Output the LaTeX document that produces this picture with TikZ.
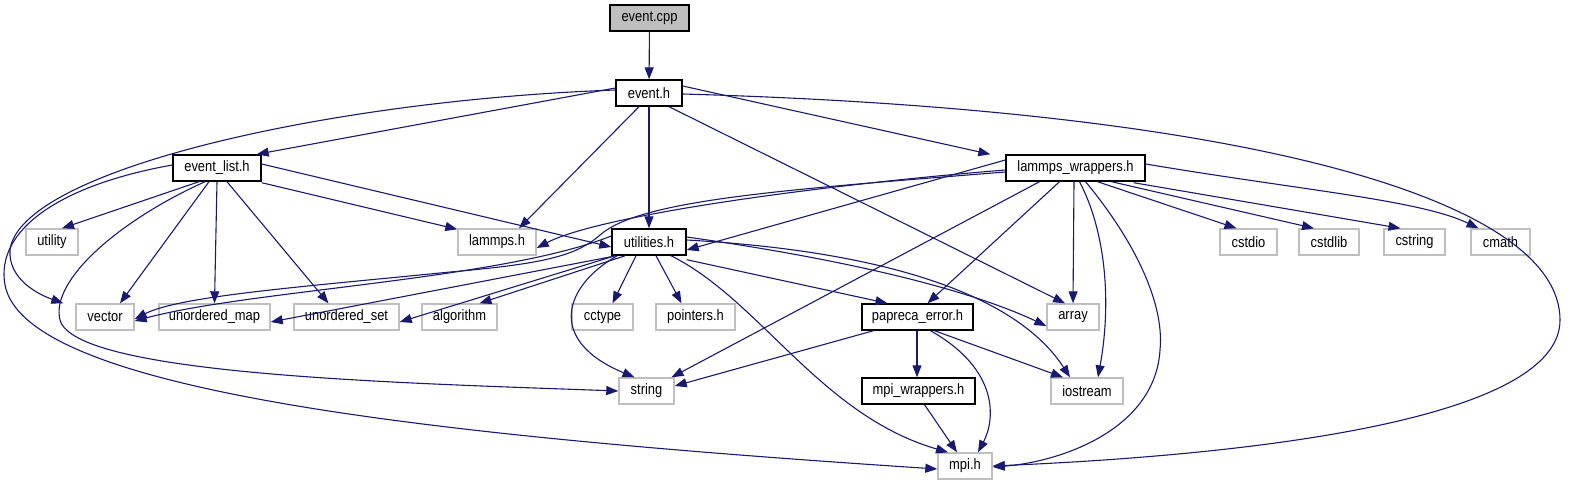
\documentclass[tikz,border=0pt]{standalone}
\usepackage{fontspec}
\setmainfont[FakeStretch=0.86]{Liberation Sans}
\usetikzlibrary{arrows.meta}
\definecolor{edgec}{HTML}{191970}
\definecolor{extc}{HTML}{BFBFBF}
\tikzset{
  box/.style={draw=black, line width=1.4pt, minimum height=26pt, inner sep=0pt, font=\fontsize{15}{16}\selectfont, text=black},
  ext/.style={draw=extc, line width=1.4pt, minimum height=26pt, inner sep=0pt, font=\fontsize{15}{16}\selectfont, text=black},
  root/.style={box, fill=extc},
  edge/.style={draw=edgec, line width=1.1pt, -{Triangle[length=12pt,width=9pt]}},
}
\begin{document}
\begin{tikzpicture}[x=1pt,y=-1pt]
\useasboundingbox (0,0) rectangle (1571,485);
% row 0
\node[root, minimum width=79pt] (ecpp) at (649.5,18) {event.cpp};
% row 1
\node[box, minimum width=66pt] (eh) at (649,93) {event.h};
% row 2
\node[box, minimum width=88pt] (el) at (217,168) {event\_list.h};
\node[box, minimum width=139pt] (lw) at (1075.5,168) {lammps\_wrappers.h};
% row 3
\node[ext, minimum width=52pt] (utility) at (52,242) {utility};
\node[ext, minimum width=78pt] (lammps) at (497,242) {lammps.h};
\node[box, minimum width=74pt] (util) at (649,242) {utilities.h};
\node[ext, minimum width=57pt] (cstdio) at (1248.5,242) {cstdio};
\node[ext, minimum width=60pt] (cstdlib) at (1329,242) {cstdlib};
\node[ext, minimum width=61pt] (cstring) at (1414.5,242) {cstring};
\node[ext, minimum width=59pt] (cmath) at (1500.5,242) {cmath};
% row 4
\node[ext, minimum width=58pt] (vector) at (105,317) {vector};
\node[ext, minimum width=111pt] (umap) at (214.5,317) {unordered\_map};
\node[ext, minimum width=105pt] (uset) at (346.5,317) {unordered\_set};
\node[ext, minimum width=75pt] (algo) at (459.5,317) {algorithm};
\node[ext, minimum width=61pt] (cctype) at (602.5,317) {cctype};
\node[ext, minimum width=79pt] (ptr) at (695.5,317) {pointers.h};
\node[box, minimum width=111pt] (perr) at (917.5,317) {papreca\_error.h};
\node[ext, minimum width=52pt] (array) at (1073,317) {array};
% row 5
\node[ext, minimum width=55pt] (string) at (646.5,391) {string};
\node[box, minimum width=113pt] (mpiw) at (918.5,391) {mpi\_wrappers.h};
\node[ext, minimum width=72pt] (iostream) at (1087,391) {iostream};
% row 6
\node[ext, minimum width=54pt] (mpi) at (965,466) {mpi.h};

% event.cpp
\draw[edge] (ecpp) -- (eh);
% event.h
\draw[edge] ([yshift=5pt]eh.west) -- ([xshift=-5pt]el.north east);
\draw[edge] ([xshift=-10pt]eh.south) -- ([xshift=22pt]lammps.north);
\draw[edge] (eh) -- (util);
\draw[edge] ([xshift=20pt]eh.south) -- ([xshift=-8pt]array.north);
\draw[edge] ([yshift=7pt]eh.east) -- ([xshift=-15pt]lw.north west);
\draw[edge] ([yshift=-1pt]eh.east) .. controls (1250,110) and (1560,200) .. (1560,320) .. controls (1560,420) and (1250,455) .. (mpi.east);
\draw[edge] ([yshift=3pt]eh.west) .. controls (330,100) and (20,170) .. (10,250) .. controls (8,280) and (40,295) .. ([xshift=-12pt]vector.north west);
% event_list.h
\draw[edge] ([xshift=-18pt]el.south) -- ([xshift=10pt]utility.north);
\draw[edge] ([xshift=-12pt]el.south) .. controls (120,220) and (50,280) .. (60,320) .. controls (75,375) and (400,383) .. (string.west);
\draw[edge] ([yshift=3pt]el.west) .. controls (60,185) and (-5,230) .. (5,285) .. controls (25,390) and (420,435) .. ([yshift=-3pt]mpi.west);
\draw[edge] ([xshift=-8pt]el.south) -- ([xshift=15pt]vector.north);
\draw[edge] (el.south) -- (umap.north);
\draw[edge] ([xshift=10pt]el.south) -- ([xshift=-18pt]uset.north);
\draw[edge] ([yshift=-1pt]el.south east) -- ([yshift=-1pt]lammps.north west);
\draw[edge] ([yshift=4pt]el.east) -- ([yshift=-5pt]util.west);
% lammps_wrappers.h
\draw[edge] ([yshift=-2pt]lw.west) .. controls (820,185) and (600,215) .. ([yshift=-6pt]lammps.east);
\draw[edge] ([yshift=-4pt]lw.west) .. controls (780,190) and (640,200) .. (600,235) .. controls (575,257) and (540,264) .. (450,272) .. controls (300,287) and (180,296) .. ([yshift=-2pt]vector.east);
\draw[edge] ([yshift=8pt]lw.west) -- ([yshift=-8pt]util.east);
\draw[edge] ([xshift=-36pt]lw.south) -- ([xshift=25pt]string.north);
\draw[edge] ([xshift=-16pt]lw.south) -- ([xshift=10pt]perr.north);
\draw[edge] ([xshift=-1.5pt]lw.south) -- (array.north);
\draw[edge] ([xshift=4pt]lw.south) .. controls (1105,230) and (1112,300) .. ([xshift=11pt]iostream.north);
\draw[edge] ([xshift=10pt]lw.south) .. controls (1130,235) and (1165,300) .. (1160,350) .. controls (1155,430) and (1060,462) .. ([yshift=-1pt]mpi.east);
\draw[edge] ([xshift=22pt]lw.south) -- ([xshift=-12pt]cstdio.north);
\draw[edge] ([xshift=36pt]lw.south) -- ([xshift=-15pt]cstdlib.north);
\draw[edge] ([xshift=-12pt,yshift=-1pt]lw.south east) -- ([xshift=-14pt]cstring.north);
\draw[edge] ([yshift=4pt]lw.east) .. controls (1300,190) and (1420,200) .. ([xshift=-22pt]cmath.north);
% utilities.h
\draw[edge] ([yshift=6pt]util.west) .. controls (500,280) and (250,290) .. ([yshift=-4pt]vector.east);
\draw[edge] ([yshift=-1pt]util.south west) -- ([yshift=-5pt]umap.east);
\draw[edge] ([xshift=4pt]util.south west) -- ([yshift=-5pt]uset.east);
\draw[edge] ([xshift=14pt]util.south west) -- ([xshift=20pt]algo.north);
\draw[edge] ([xshift=-13pt]util.south) -- ([xshift=10pt]cctype.north);
\draw[edge] ([xshift=7pt]util.south) -- ([xshift=-14pt]ptr.north);
\draw[edge] ([xshift=6pt]util.south west) .. controls (565,285) and (545,340) .. ([xshift=-12pt]string.north);
\draw[edge] ([xshift=22pt]util.south) .. controls (760,300) and (820,415) .. ([xshift=-17pt]mpi.north);
\draw[edge] ([yshift=-4pt]util.south east) -- ([xshift=-30pt]perr.north);
\draw[edge] ([yshift=5pt]util.east) .. controls (850,260) and (970,290) .. ([yshift=-9pt]array.west);
\draw[edge] ([yshift=2pt]util.east) .. controls (900,252) and (1020,300) .. ([xshift=-17pt]iostream.north);
% papreca_error.h
\draw[edge] ([xshift=-44pt]perr.south) -- ([yshift=5pt]string.east);
\draw[edge] ([xshift=-0.5pt]perr.south) -- ([xshift=-1.5pt]mpiw.north);
\draw[edge] ([xshift=17pt]perr.south) -- ([xshift=-24pt]iostream.north);
\draw[edge] ([xshift=13pt]perr.south) .. controls (1000,370) and (995,420) .. ([xshift=13pt]mpi.north);
% mpi_wrappers.h
\draw[edge] ([xshift=6pt]mpiw.south) -- ([xshift=-8pt]mpi.north);
\end{tikzpicture}
\end{document}
